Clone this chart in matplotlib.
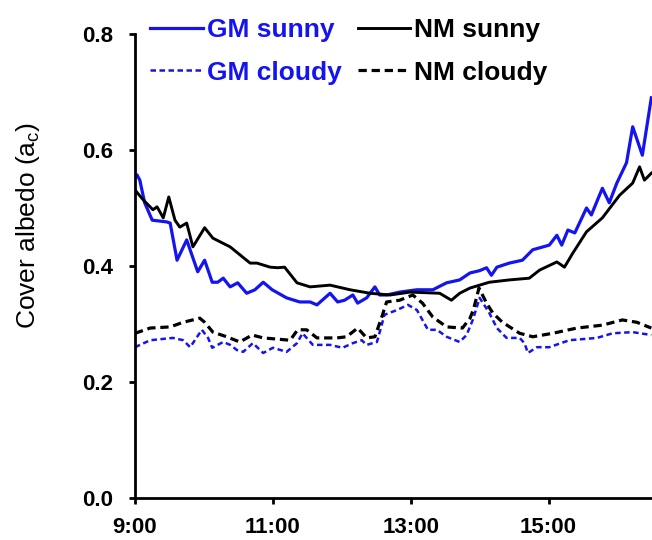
import numpy as np
from matplotlib import pyplot as plt

# times in decimal hours
gmSunnyT = [9.00, 9.03, 9.07, 9.14, 9.25, 9.46, 9.51, 9.61, 9.75, 9.91, 10.01, 10.12, 10.20,
            10.28, 10.38, 10.49, 10.62, 10.74, 10.86, 10.99, 11.20, 11.39, 11.54, 11.64, 11.83,
            11.94, 12.04, 12.16, 12.23, 12.36, 12.48, 12.55, 12.65, 12.84, 13.09, 13.32, 13.52,
            13.71, 13.86, 14.00, 14.10, 14.17, 14.25, 14.43, 14.62, 14.77, 15.01, 15.12, 15.19,
            15.28, 15.38, 15.55, 15.62, 15.78, 15.88, 15.99, 16.13, 16.22, 16.36, 16.49]
gmSunny = [0.555, 0.557, 0.548, 0.509, 0.479, 0.476, 0.474, 0.410, 0.445, 0.390, 0.410, 0.372, 0.372,
           0.379, 0.364, 0.371, 0.353, 0.359, 0.372, 0.359, 0.345, 0.338, 0.338, 0.333, 0.353,
           0.338, 0.341, 0.350, 0.336, 0.345, 0.364, 0.350, 0.350, 0.355, 0.359, 0.359, 0.371,
           0.376, 0.388, 0.392, 0.397, 0.384, 0.398, 0.405, 0.410, 0.428, 0.436, 0.453, 0.436,
           0.462, 0.457, 0.500, 0.488, 0.534, 0.509, 0.543, 0.578, 0.640, 0.591, 0.690]

nmSunnyT = [9.00, 9.12, 9.26, 9.32, 9.41, 9.49, 9.58, 9.65, 9.75, 9.84, 10.01, 10.13, 10.38,
            10.67, 10.77, 10.96, 11.07, 11.17, 11.35, 11.54, 11.83, 12.12, 12.41, 12.70, 12.99,
            13.42, 13.59, 13.71, 13.86, 14.00, 14.14, 14.43, 14.72, 14.87, 15.12, 15.23, 15.35,
            15.55, 15.78, 16.03, 16.22, 16.32, 16.39, 16.49]
nmSunny = [0.531, 0.514, 0.497, 0.502, 0.483, 0.519, 0.479, 0.467, 0.474, 0.433, 0.466, 0.448, 0.433,
           0.405, 0.405, 0.398, 0.397, 0.398, 0.371, 0.364, 0.367, 0.359, 0.353, 0.350, 0.355,
           0.353, 0.341, 0.353, 0.362, 0.367, 0.372, 0.376, 0.379, 0.393, 0.407, 0.398, 0.422,
           0.459, 0.483, 0.522, 0.543, 0.571, 0.548, 0.560]

gmCloudyT = [9.00, 9.22, 9.55, 9.70, 9.80, 9.97, 10.06, 10.12, 10.28, 10.38, 10.48, 10.57, 10.71,
             10.86, 11.00, 11.20, 11.35, 11.43, 11.58, 11.83, 12.01, 12.16, 12.29, 12.36, 12.51,
             12.62, 12.80, 12.96, 13.09, 13.25, 13.38, 13.52, 13.71, 13.81, 13.90, 14.00, 14.14,
             14.25, 14.39, 14.58, 14.65, 14.70, 14.83, 15.01, 15.30, 15.70, 15.93, 16.22, 16.49]
gmCloudy = [0.260, 0.272, 0.276, 0.272, 0.260, 0.290, 0.276, 0.259, 0.269, 0.264, 0.255, 0.252, 0.267,
            0.250, 0.259, 0.252, 0.267, 0.284, 0.264, 0.264, 0.259, 0.267, 0.272, 0.264, 0.269,
            0.316, 0.324, 0.333, 0.324, 0.290, 0.290, 0.278, 0.269, 0.281, 0.307, 0.345, 0.319,
            0.293, 0.276, 0.276, 0.267, 0.250, 0.260, 0.260, 0.272, 0.276, 0.284, 0.286, 0.281]

nmCloudyT = [9.00, 9.22, 9.51, 9.70, 9.94, 10.01, 10.13, 10.33, 10.52, 10.70, 10.86, 11.25, 11.36,
             11.49, 11.64, 11.93, 12.07, 12.23, 12.36, 12.48, 12.58, 12.65, 12.84, 13.03, 13.17,
             13.32, 13.52, 13.75, 13.86, 13.91, 13.99, 14.10, 14.19, 14.33, 14.58, 14.77, 15.06,
             15.41, 15.78, 16.07, 16.28, 16.49]
nmCloudy = [0.284, 0.293, 0.295, 0.303, 0.310, 0.303, 0.286, 0.278, 0.269, 0.281, 0.276, 0.272, 0.290,
            0.290, 0.276, 0.276, 0.278, 0.293, 0.276, 0.278, 0.312, 0.338, 0.341, 0.350, 0.336,
            0.312, 0.295, 0.293, 0.310, 0.325, 0.362, 0.336, 0.319, 0.303, 0.284, 0.278, 0.284,
            0.293, 0.298, 0.307, 0.303, 0.293]

xTicks = [9, 11, 13, 15]
xTickLabels = ['9:00', '11:00', '13:00', '15:00']
yTicks = [0.0, 0.2, 0.4, 0.6, 0.8]

blue = '#1414f0'
plt.rcParams['font.family'] = ['Liberation Sans', 'DejaVu Sans']

fig = plt.figure(figsize=(6.52, 5.40), dpi=100)
ax = fig.add_axes([135 / 652, 1 - 498 / 540, 1 - 135 / 652, (498 - 34) / 540])

ax.plot(gmSunnyT, gmSunny, color=blue, lw=2.3, label='GM sunny')
ax.plot(nmSunnyT, nmSunny, color='black', lw=2.1, label='NM sunny')
ax.plot(gmCloudyT, gmCloudy, color=blue, lw=1.8, dashes=(2.2, 1.4), label='GM cloudy')
ax.plot(nmCloudyT, nmCloudy, color='black', lw=2.3, dashes=(2.6, 1.5), label='NM cloudy')

ax.set_xlim(9, 16.5)
ax.set_ylim(0, 0.8)
ax.set_xticks(xTicks)
ax.set_xticklabels(xTickLabels)
ax.set_yticks(yTicks)
ax.set_yticklabels(['%.1f' % v for v in yTicks])
for side in ('top', 'right'):
    ax.spines[side].set_visible(False)
for side in ('left', 'bottom'):
    ax.spines[side].set_linewidth(2.0)
ax.tick_params(axis='both', direction='out', length=4, width=2.0, labelsize=16)
ax.tick_params(axis='y', pad=12)
ax.tick_params(axis='x', pad=10)
for lab in ax.get_xticklabels() + ax.get_yticklabels():
    lab.set_fontweight('bold')

fig.text(28 / 652, 1 - 225 / 540, 'Cover albedo (a$_\\mathregular{c}$)', rotation=90,
         ha='center', va='center', fontsize=19)

# legend order: row 1 sunny, row 2 cloudy
handles, labels = ax.get_legend_handles_labels()
order = [0, 2, 1, 3]
leg = fig.legend([handles[i] for i in order], [labels[i] for i in order], ncol=2,
                 loc='upper left', bbox_to_anchor=(137 / 652, 1 - 5 / 540), frameon=False,
                 borderpad=0, handlelength=2.0, handletextpad=0.15, columnspacing=0.6,
                 labelspacing=0.7, labelcolor='linecolor',
                 prop={'weight': 'bold', 'size': 19})

fig.savefig('out.png', dpi=100)
